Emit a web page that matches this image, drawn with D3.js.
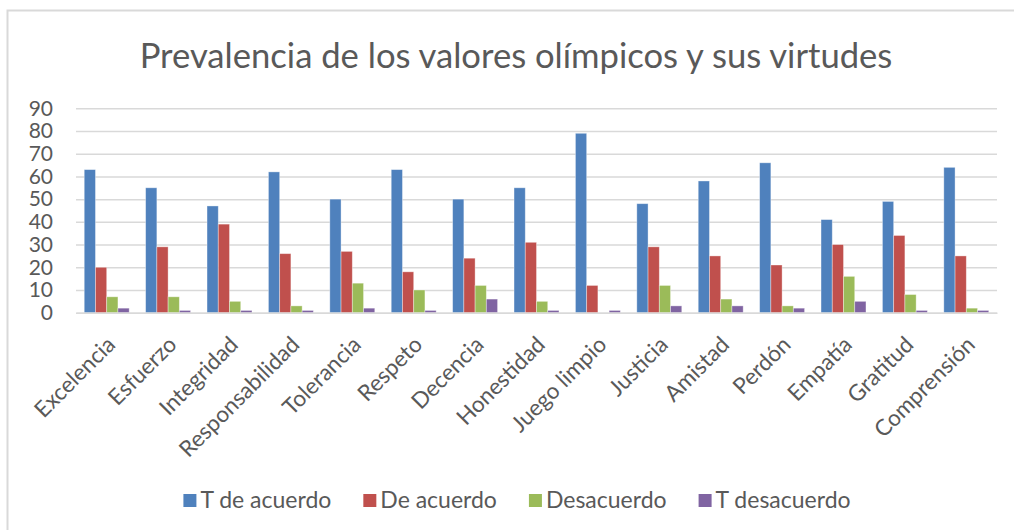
<!DOCTYPE html>
<html>
<head>
<meta charset="utf-8">
<script src="https://cdn.jsdelivr.net/npm/d3@7"></script>
<style>
  html, body { margin: 0; padding: 0; background: #fff; }
  svg { display: block; }
  text { font-family: Lato, "Open Sans", sans-serif; fill: #595959; }
</style>
</head>
<body>
<svg id="chart" width="1014" height="530"></svg>
<script>
// ---- data ----
const categories = ["Excelencia", "Esfuerzo", "Integridad", "Responsabilidad", "Tolerancia",
  "Respeto", "Decencia", "Honestidad", "Juego limpio", "Justicia", "Amistad", "Perdón",
  "Empatía", "Gratitud", "Comprensión"];
const seriesNames = ["T de acuerdo", "De acuerdo", "Desacuerdo", "T desacuerdo"];
const tDeAcuerdo   = [63, 55, 47, 62, 50, 63, 50, 55, 79, 48, 58, 66, 41, 49, 64];
const deAcuerdo    = [20, 29, 39, 26, 27, 18, 24, 31, 12, 29, 25, 21, 30, 34, 25];
const desacuerdo   = [7, 7, 5, 3, 13, 10, 12, 5, 0, 12, 6, 3, 16, 8, 2];
const tDesacuerdo  = [2, 1, 1, 1, 2, 1, 6, 1, 1, 3, 3, 2, 5, 1, 1];
const yTicks = [0, 10, 20, 30, 40, 50, 60, 70, 80, 90];
const titleText = "Prevalencia de los valores olímpicos y sus virtudes";
const colors = ["#4F81BD", "#C0504D", "#9BBB59", "#8064A2"];

const seriesValues = [tDeAcuerdo, deAcuerdo, desacuerdo, tDesacuerdo];
const rows = categories.map((c, i) => ({ cat: c, vals: seriesValues.map(s => s[i]) }));

const svg = d3.select("#chart");

// outer chart border (extends beyond the visible picture on right/bottom)
svg.append("rect")
  .attr("x", 7.5).attr("y", 10.5).attr("width", 1030).attr("height", 540)
  .attr("fill", "#fff").attr("stroke", "#d9d9d9").attr("stroke-width", 2);

// title
const title = svg.append("text")
  .attr("x", 516).attr("y", 68)
  .attr("text-anchor", "middle")
  .style("font-size", "34px")
  .text(titleText);
{
  const w = title.node().getComputedTextLength();
  title.style("font-size", (34 * 753 / w).toFixed(2) + "px");
}

// scales
const plot = { left: 76, right: 997, top: 108.3, bottom: 312.7 };
const y = d3.scaleLinear().domain([0, 90]).range([plot.bottom, plot.top]);
const x0 = d3.scaleBand().domain(categories).range([plot.left, plot.right]).paddingInner(0).paddingOuter(0);
const bw = x0.bandwidth();
const pad = bw * 0.134;
const x1 = d3.scaleBand().domain(d3.range(seriesNames.length)).range([pad, bw - pad]).padding(0);

// gridlines
const yAxis = d3.axisLeft(y).tickValues(yTicks).tickSize(-(plot.right - plot.left)).tickPadding(23);
const gy = svg.append("g").attr("transform", `translate(${plot.left},0)`).call(yAxis);
gy.select(".domain").remove();
gy.selectAll(".tick line").attr("stroke", "#d9d9d9").attr("stroke-width", 1.5);
gy.selectAll(".tick text").style("font-size", "21px").attr("fill", "#595959")
  .style("font-family", "Lato, sans-serif");

// bars
const groups = svg.append("g").selectAll("g").data(rows).join("g")
  .attr("transform", d => `translate(${x0(d.cat)},0)`);
groups.selectAll("rect").data(d => d.vals.map((v, i) => ({ v, i }))).join("rect")
  .attr("x", d => x1(d.i))
  .attr("y", d => y(d.v))
  .attr("width", x1.bandwidth())
  .attr("height", d => y(0) - y(d.v))
  .attr("fill", d => colors[d.i])
  .attr("stroke", "rgba(255,255,255,0.45)")
  .attr("stroke-width", 0.8);

// baseline axis
const xAxis = d3.axisBottom(x0).tickSize(0).tickFormat("");
const gx = svg.append("g").attr("transform", `translate(0,${plot.bottom})`).call(xAxis);
gx.select(".domain").attr("stroke", "#d9d9d9").attr("stroke-width", 1.5);

// rotated category labels
svg.append("g").selectAll("text").data(categories).join("text")
  .attr("transform", d => `translate(${x0(d) + bw / 2 + 10},346) rotate(-45)`)
  .attr("text-anchor", "end")
  .style("font-size", "22.5px")
  .text(d => d);

// legend
const legend = svg.append("g");
const items = legend.selectAll("g").data(seriesNames).join("g");
items.append("rect").attr("width", 13).attr("height", 13).attr("y", 494)
  .attr("fill", (d, i) => colors[i]);
items.append("text").attr("x", 17).attr("y", 508).style("font-size", "23px").text(d => d);
const widths = [];
items.each(function () {
  widths.push(17 + d3.select(this).select("text").node().getComputedTextLength());
});
const gap = 32;
const total = d3.sum(widths) + gap * (widths.length - 1);
let start = 517 - total / 2;
items.attr("transform", (d, i) => {
  const t = `translate(${start},0)`;
  start += widths[i] + gap;
  return t;
});
</script>
</body>
</html>
